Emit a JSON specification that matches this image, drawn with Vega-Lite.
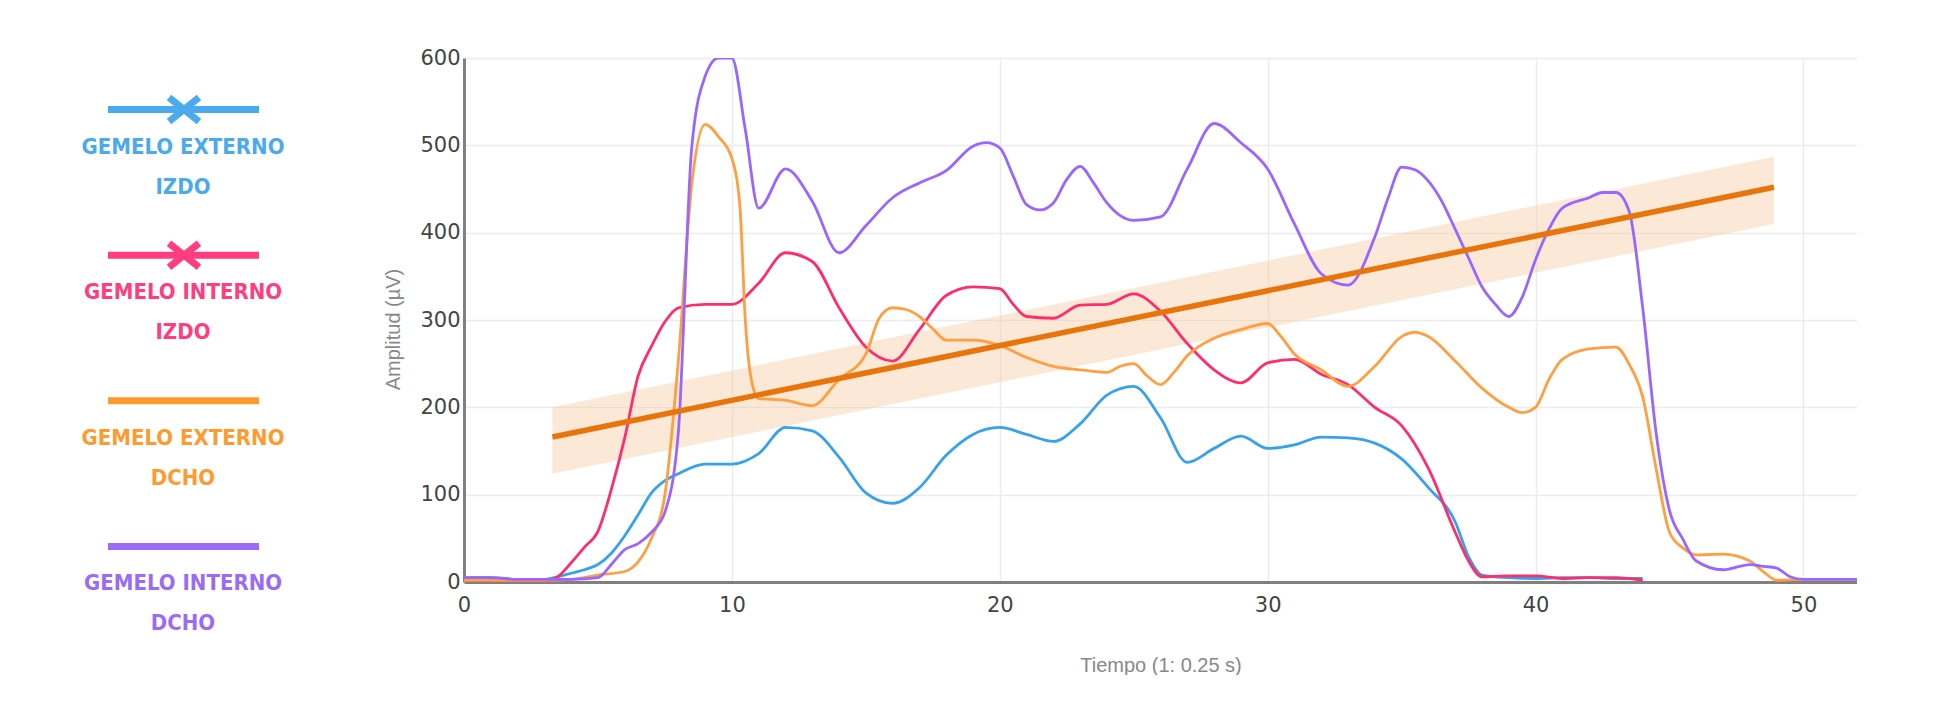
{
  "$schema": "https://vega.github.io/schema/vega-lite/v6.json",
  "background": "white",
  "padding": {"left": 0, "top": 47, "right": 0, "bottom": 0},
  "spacing": 23,
  "config": {"view": {"stroke": null}},
  "datasets": {
    "legend": [
      {"s": "Gemelo externo izdo", "l1": "GEMELO EXTERNO", "l2": "IZDO", "cross": true},
      {"s": "Gemelo interno izdo", "l1": "GEMELO INTERNO", "l2": "IZDO", "cross": true},
      {"s": "Gemelo externo dcho", "l1": "GEMELO EXTERNO", "l2": "DCHO", "cross": false},
      {"s": "Gemelo interno dcho", "l1": "GEMELO INTERNO", "l2": "DCHO", "cross": false}
    ],
    "trend": [
      {"t": 3.3, "fit": 166, "lo": 124, "hi": 200},
      {"t": 48.9, "fit": 452, "lo": 410, "hi": 487}
    ],
    "series": [
      {"s": "Gemelo externo izdo", "t": 0, "v": 5},
      {"s": "Gemelo externo izdo", "t": 1, "v": 5},
      {"s": "Gemelo externo izdo", "t": 2, "v": 3},
      {"s": "Gemelo externo izdo", "t": 3, "v": 3},
      {"s": "Gemelo externo izdo", "t": 3.5, "v": 6},
      {"s": "Gemelo externo izdo", "t": 4, "v": 10},
      {"s": "Gemelo externo izdo", "t": 4.5, "v": 14},
      {"s": "Gemelo externo izdo", "t": 5, "v": 20},
      {"s": "Gemelo externo izdo", "t": 5.5, "v": 33},
      {"s": "Gemelo externo izdo", "t": 6, "v": 53},
      {"s": "Gemelo externo izdo", "t": 6.5, "v": 77},
      {"s": "Gemelo externo izdo", "t": 7, "v": 102},
      {"s": "Gemelo externo izdo", "t": 7.5, "v": 116},
      {"s": "Gemelo externo izdo", "t": 8, "v": 124},
      {"s": "Gemelo externo izdo", "t": 9, "v": 135},
      {"s": "Gemelo externo izdo", "t": 10, "v": 135},
      {"s": "Gemelo externo izdo", "t": 11, "v": 147},
      {"s": "Gemelo externo izdo", "t": 12, "v": 177},
      {"s": "Gemelo externo izdo", "t": 13, "v": 173},
      {"s": "Gemelo externo izdo", "t": 14, "v": 143},
      {"s": "Gemelo externo izdo", "t": 15, "v": 102},
      {"s": "Gemelo externo izdo", "t": 16, "v": 90},
      {"s": "Gemelo externo izdo", "t": 17, "v": 108},
      {"s": "Gemelo externo izdo", "t": 18, "v": 145},
      {"s": "Gemelo externo izdo", "t": 19, "v": 169},
      {"s": "Gemelo externo izdo", "t": 20, "v": 177},
      {"s": "Gemelo externo izdo", "t": 21, "v": 169},
      {"s": "Gemelo externo izdo", "t": 22, "v": 161},
      {"s": "Gemelo externo izdo", "t": 23, "v": 181},
      {"s": "Gemelo externo izdo", "t": 24, "v": 214},
      {"s": "Gemelo externo izdo", "t": 25, "v": 224},
      {"s": "Gemelo externo izdo", "t": 26, "v": 188},
      {"s": "Gemelo externo izdo", "t": 27, "v": 137},
      {"s": "Gemelo externo izdo", "t": 28, "v": 153},
      {"s": "Gemelo externo izdo", "t": 29, "v": 167},
      {"s": "Gemelo externo izdo", "t": 30, "v": 153},
      {"s": "Gemelo externo izdo", "t": 31, "v": 157},
      {"s": "Gemelo externo izdo", "t": 32, "v": 166},
      {"s": "Gemelo externo izdo", "t": 33, "v": 165},
      {"s": "Gemelo externo izdo", "t": 34, "v": 159},
      {"s": "Gemelo externo izdo", "t": 35, "v": 141},
      {"s": "Gemelo externo izdo", "t": 36, "v": 108},
      {"s": "Gemelo externo izdo", "t": 37, "v": 69},
      {"s": "Gemelo externo izdo", "t": 37.5, "v": 29},
      {"s": "Gemelo externo izdo", "t": 38, "v": 8},
      {"s": "Gemelo externo izdo", "t": 39, "v": 5},
      {"s": "Gemelo externo izdo", "t": 40, "v": 4},
      {"s": "Gemelo externo izdo", "t": 41, "v": 5},
      {"s": "Gemelo externo izdo", "t": 42, "v": 5},
      {"s": "Gemelo externo izdo", "t": 43, "v": 4},
      {"s": "Gemelo externo izdo", "t": 44, "v": 4},

      {"s": "Gemelo interno izdo", "t": 0, "v": 2},
      {"s": "Gemelo interno izdo", "t": 1, "v": 2},
      {"s": "Gemelo interno izdo", "t": 2, "v": 1},
      {"s": "Gemelo interno izdo", "t": 3, "v": 1},
      {"s": "Gemelo interno izdo", "t": 3.5, "v": 6},
      {"s": "Gemelo interno izdo", "t": 4, "v": 22},
      {"s": "Gemelo interno izdo", "t": 4.5, "v": 40},
      {"s": "Gemelo interno izdo", "t": 5, "v": 58},
      {"s": "Gemelo interno izdo", "t": 5.5, "v": 106},
      {"s": "Gemelo interno izdo", "t": 6, "v": 165},
      {"s": "Gemelo interno izdo", "t": 6.5, "v": 236},
      {"s": "Gemelo interno izdo", "t": 7, "v": 270},
      {"s": "Gemelo interno izdo", "t": 7.5, "v": 298},
      {"s": "Gemelo interno izdo", "t": 8, "v": 314},
      {"s": "Gemelo interno izdo", "t": 9, "v": 318},
      {"s": "Gemelo interno izdo", "t": 10, "v": 318},
      {"s": "Gemelo interno izdo", "t": 11, "v": 342},
      {"s": "Gemelo interno izdo", "t": 12, "v": 377},
      {"s": "Gemelo interno izdo", "t": 13, "v": 367},
      {"s": "Gemelo interno izdo", "t": 14, "v": 314},
      {"s": "Gemelo interno izdo", "t": 15, "v": 269},
      {"s": "Gemelo interno izdo", "t": 16, "v": 253},
      {"s": "Gemelo interno izdo", "t": 17, "v": 289},
      {"s": "Gemelo interno izdo", "t": 18, "v": 328},
      {"s": "Gemelo interno izdo", "t": 19, "v": 338},
      {"s": "Gemelo interno izdo", "t": 20, "v": 336},
      {"s": "Gemelo interno izdo", "t": 20.5, "v": 318},
      {"s": "Gemelo interno izdo", "t": 21, "v": 304},
      {"s": "Gemelo interno izdo", "t": 22, "v": 302},
      {"s": "Gemelo interno izdo", "t": 23, "v": 317},
      {"s": "Gemelo interno izdo", "t": 24, "v": 318},
      {"s": "Gemelo interno izdo", "t": 25, "v": 330},
      {"s": "Gemelo interno izdo", "t": 26, "v": 310},
      {"s": "Gemelo interno izdo", "t": 27, "v": 273},
      {"s": "Gemelo interno izdo", "t": 28, "v": 243},
      {"s": "Gemelo interno izdo", "t": 29, "v": 228},
      {"s": "Gemelo interno izdo", "t": 30, "v": 251},
      {"s": "Gemelo interno izdo", "t": 31, "v": 255},
      {"s": "Gemelo interno izdo", "t": 32, "v": 238},
      {"s": "Gemelo interno izdo", "t": 33, "v": 226},
      {"s": "Gemelo interno izdo", "t": 34, "v": 200},
      {"s": "Gemelo interno izdo", "t": 35, "v": 179},
      {"s": "Gemelo interno izdo", "t": 36, "v": 130},
      {"s": "Gemelo interno izdo", "t": 37, "v": 57},
      {"s": "Gemelo interno izdo", "t": 37.5, "v": 24},
      {"s": "Gemelo interno izdo", "t": 38, "v": 6},
      {"s": "Gemelo interno izdo", "t": 39, "v": 7},
      {"s": "Gemelo interno izdo", "t": 40, "v": 7},
      {"s": "Gemelo interno izdo", "t": 41, "v": 4},
      {"s": "Gemelo interno izdo", "t": 42, "v": 5},
      {"s": "Gemelo interno izdo", "t": 43, "v": 5},
      {"s": "Gemelo interno izdo", "t": 44, "v": 2},

      {"s": "Gemelo externo dcho", "t": 0, "v": 2},
      {"s": "Gemelo externo dcho", "t": 1, "v": 2},
      {"s": "Gemelo externo dcho", "t": 2, "v": 2},
      {"s": "Gemelo externo dcho", "t": 3, "v": 2},
      {"s": "Gemelo externo dcho", "t": 4, "v": 3},
      {"s": "Gemelo externo dcho", "t": 5, "v": 8},
      {"s": "Gemelo externo dcho", "t": 6, "v": 12},
      {"s": "Gemelo externo dcho", "t": 6.5, "v": 23},
      {"s": "Gemelo externo dcho", "t": 7, "v": 50},
      {"s": "Gemelo externo dcho", "t": 7.5, "v": 100},
      {"s": "Gemelo externo dcho", "t": 8, "v": 253},
      {"s": "Gemelo externo dcho", "t": 8.5, "v": 455},
      {"s": "Gemelo externo dcho", "t": 9, "v": 524},
      {"s": "Gemelo externo dcho", "t": 9.5, "v": 510},
      {"s": "Gemelo externo dcho", "t": 10, "v": 485},
      {"s": "Gemelo externo dcho", "t": 10.3, "v": 430},
      {"s": "Gemelo externo dcho", "t": 10.5, "v": 300},
      {"s": "Gemelo externo dcho", "t": 10.75, "v": 228},
      {"s": "Gemelo externo dcho", "t": 11, "v": 210},
      {"s": "Gemelo externo dcho", "t": 12, "v": 208},
      {"s": "Gemelo externo dcho", "t": 13, "v": 202},
      {"s": "Gemelo externo dcho", "t": 14, "v": 232},
      {"s": "Gemelo externo dcho", "t": 15, "v": 261},
      {"s": "Gemelo externo dcho", "t": 15.5, "v": 302},
      {"s": "Gemelo externo dcho", "t": 16, "v": 314},
      {"s": "Gemelo externo dcho", "t": 16.5, "v": 312},
      {"s": "Gemelo externo dcho", "t": 17, "v": 304},
      {"s": "Gemelo externo dcho", "t": 17.5, "v": 290},
      {"s": "Gemelo externo dcho", "t": 18, "v": 277},
      {"s": "Gemelo externo dcho", "t": 19, "v": 277},
      {"s": "Gemelo externo dcho", "t": 20, "v": 271},
      {"s": "Gemelo externo dcho", "t": 21, "v": 257},
      {"s": "Gemelo externo dcho", "t": 22, "v": 247},
      {"s": "Gemelo externo dcho", "t": 23, "v": 243},
      {"s": "Gemelo externo dcho", "t": 24, "v": 240},
      {"s": "Gemelo externo dcho", "t": 24.5, "v": 247},
      {"s": "Gemelo externo dcho", "t": 25, "v": 250},
      {"s": "Gemelo externo dcho", "t": 25.5, "v": 236},
      {"s": "Gemelo externo dcho", "t": 26, "v": 226},
      {"s": "Gemelo externo dcho", "t": 26.5, "v": 240},
      {"s": "Gemelo externo dcho", "t": 27, "v": 259},
      {"s": "Gemelo externo dcho", "t": 28, "v": 279},
      {"s": "Gemelo externo dcho", "t": 29, "v": 289},
      {"s": "Gemelo externo dcho", "t": 30, "v": 296},
      {"s": "Gemelo externo dcho", "t": 30.5, "v": 281},
      {"s": "Gemelo externo dcho", "t": 31, "v": 261},
      {"s": "Gemelo externo dcho", "t": 32, "v": 243},
      {"s": "Gemelo externo dcho", "t": 33, "v": 224},
      {"s": "Gemelo externo dcho", "t": 34, "v": 247},
      {"s": "Gemelo externo dcho", "t": 35, "v": 281},
      {"s": "Gemelo externo dcho", "t": 35.5, "v": 286},
      {"s": "Gemelo externo dcho", "t": 36, "v": 281},
      {"s": "Gemelo externo dcho", "t": 37, "v": 253},
      {"s": "Gemelo externo dcho", "t": 38, "v": 222},
      {"s": "Gemelo externo dcho", "t": 39, "v": 200},
      {"s": "Gemelo externo dcho", "t": 39.5, "v": 194},
      {"s": "Gemelo externo dcho", "t": 40, "v": 200},
      {"s": "Gemelo externo dcho", "t": 40.5, "v": 232},
      {"s": "Gemelo externo dcho", "t": 41, "v": 255},
      {"s": "Gemelo externo dcho", "t": 42, "v": 267},
      {"s": "Gemelo externo dcho", "t": 43, "v": 269},
      {"s": "Gemelo externo dcho", "t": 43.5, "v": 249},
      {"s": "Gemelo externo dcho", "t": 44, "v": 212},
      {"s": "Gemelo externo dcho", "t": 44.5, "v": 130},
      {"s": "Gemelo externo dcho", "t": 45, "v": 57},
      {"s": "Gemelo externo dcho", "t": 45.5, "v": 39},
      {"s": "Gemelo externo dcho", "t": 46, "v": 31},
      {"s": "Gemelo externo dcho", "t": 47, "v": 32},
      {"s": "Gemelo externo dcho", "t": 48, "v": 24},
      {"s": "Gemelo externo dcho", "t": 48.5, "v": 12},
      {"s": "Gemelo externo dcho", "t": 49, "v": 2},
      {"s": "Gemelo externo dcho", "t": 50, "v": 3},
      {"s": "Gemelo externo dcho", "t": 51, "v": 3},
      {"s": "Gemelo externo dcho", "t": 52, "v": 3},

      {"s": "Gemelo interno dcho", "t": 0, "v": 5},
      {"s": "Gemelo interno dcho", "t": 1, "v": 5},
      {"s": "Gemelo interno dcho", "t": 2, "v": 3},
      {"s": "Gemelo interno dcho", "t": 3, "v": 3},
      {"s": "Gemelo interno dcho", "t": 4, "v": 3},
      {"s": "Gemelo interno dcho", "t": 5, "v": 5},
      {"s": "Gemelo interno dcho", "t": 5.5, "v": 20},
      {"s": "Gemelo interno dcho", "t": 6, "v": 37},
      {"s": "Gemelo interno dcho", "t": 6.5, "v": 44},
      {"s": "Gemelo interno dcho", "t": 7, "v": 57},
      {"s": "Gemelo interno dcho", "t": 7.5, "v": 80},
      {"s": "Gemelo interno dcho", "t": 8, "v": 171},
      {"s": "Gemelo interno dcho", "t": 8.5, "v": 497},
      {"s": "Gemelo interno dcho", "t": 9, "v": 579},
      {"s": "Gemelo interno dcho", "t": 9.5, "v": 600},
      {"s": "Gemelo interno dcho", "t": 10, "v": 600},
      {"s": "Gemelo interno dcho", "t": 10.5, "v": 518},
      {"s": "Gemelo interno dcho", "t": 11, "v": 428},
      {"s": "Gemelo interno dcho", "t": 12, "v": 473},
      {"s": "Gemelo interno dcho", "t": 13, "v": 436},
      {"s": "Gemelo interno dcho", "t": 14, "v": 377},
      {"s": "Gemelo interno dcho", "t": 15, "v": 408},
      {"s": "Gemelo interno dcho", "t": 16, "v": 440},
      {"s": "Gemelo interno dcho", "t": 17, "v": 457},
      {"s": "Gemelo interno dcho", "t": 18, "v": 471},
      {"s": "Gemelo interno dcho", "t": 19, "v": 499},
      {"s": "Gemelo interno dcho", "t": 19.5, "v": 503},
      {"s": "Gemelo interno dcho", "t": 20, "v": 497},
      {"s": "Gemelo interno dcho", "t": 20.5, "v": 465},
      {"s": "Gemelo interno dcho", "t": 21, "v": 432},
      {"s": "Gemelo interno dcho", "t": 21.5, "v": 426},
      {"s": "Gemelo interno dcho", "t": 22, "v": 434},
      {"s": "Gemelo interno dcho", "t": 22.5, "v": 461},
      {"s": "Gemelo interno dcho", "t": 23, "v": 476},
      {"s": "Gemelo interno dcho", "t": 23.5, "v": 457},
      {"s": "Gemelo interno dcho", "t": 24, "v": 434},
      {"s": "Gemelo interno dcho", "t": 25, "v": 414},
      {"s": "Gemelo interno dcho", "t": 26, "v": 418},
      {"s": "Gemelo interno dcho", "t": 27, "v": 473},
      {"s": "Gemelo interno dcho", "t": 28, "v": 525},
      {"s": "Gemelo interno dcho", "t": 29, "v": 503},
      {"s": "Gemelo interno dcho", "t": 30, "v": 473},
      {"s": "Gemelo interno dcho", "t": 31, "v": 410},
      {"s": "Gemelo interno dcho", "t": 32, "v": 353},
      {"s": "Gemelo interno dcho", "t": 33, "v": 340},
      {"s": "Gemelo interno dcho", "t": 34, "v": 395},
      {"s": "Gemelo interno dcho", "t": 34.5, "v": 440},
      {"s": "Gemelo interno dcho", "t": 35, "v": 475},
      {"s": "Gemelo interno dcho", "t": 35.5, "v": 472},
      {"s": "Gemelo interno dcho", "t": 36, "v": 459},
      {"s": "Gemelo interno dcho", "t": 36.5, "v": 436},
      {"s": "Gemelo interno dcho", "t": 37, "v": 404},
      {"s": "Gemelo interno dcho", "t": 37.5, "v": 371},
      {"s": "Gemelo interno dcho", "t": 38, "v": 338},
      {"s": "Gemelo interno dcho", "t": 38.5, "v": 318},
      {"s": "Gemelo interno dcho", "t": 39, "v": 304},
      {"s": "Gemelo interno dcho", "t": 39.5, "v": 326},
      {"s": "Gemelo interno dcho", "t": 40, "v": 369},
      {"s": "Gemelo interno dcho", "t": 40.5, "v": 404},
      {"s": "Gemelo interno dcho", "t": 41, "v": 428},
      {"s": "Gemelo interno dcho", "t": 42, "v": 440},
      {"s": "Gemelo interno dcho", "t": 42.5, "v": 446},
      {"s": "Gemelo interno dcho", "t": 43, "v": 446},
      {"s": "Gemelo interno dcho", "t": 43.5, "v": 424},
      {"s": "Gemelo interno dcho", "t": 44, "v": 314},
      {"s": "Gemelo interno dcho", "t": 44.5, "v": 171},
      {"s": "Gemelo interno dcho", "t": 45, "v": 82},
      {"s": "Gemelo interno dcho", "t": 45.5, "v": 49},
      {"s": "Gemelo interno dcho", "t": 46, "v": 24},
      {"s": "Gemelo interno dcho", "t": 47, "v": 14},
      {"s": "Gemelo interno dcho", "t": 48, "v": 20},
      {"s": "Gemelo interno dcho", "t": 48.5, "v": 18},
      {"s": "Gemelo interno dcho", "t": 49, "v": 16},
      {"s": "Gemelo interno dcho", "t": 49.5, "v": 6},
      {"s": "Gemelo interno dcho", "t": 50, "v": 3},
      {"s": "Gemelo interno dcho", "t": 51, "v": 3},
      {"s": "Gemelo interno dcho", "t": 52, "v": 3}
    ]
  },
  "hconcat": [
    {
      "width": 360,
      "height": 540,
      "data": {"name": "legend"},
      "encoding": {
        "y": {"field": "s", "type": "nominal", "axis": null,
              "scale": {"type": "point", "padding": 0.354,
                        "domain": ["Gemelo externo izdo", "Gemelo interno izdo", "Gemelo externo dcho", "Gemelo interno dcho"]}},
        "color": {"field": "s", "type": "nominal", "legend": null,
                  "scale": {"domain": ["Gemelo externo izdo", "Gemelo interno izdo", "Gemelo externo dcho", "Gemelo interno dcho"],
                            "range": ["#4aaaed", "#ff3d7f", "#ff9a2e", "#9a6bf7"]}}
      },
      "layer": [
        {
          "mark": {"type": "rule", "strokeWidth": 7},
          "encoding": {
            "x": {"datum": 108, "type": "quantitative", "scale": {"domain": [0, 360], "nice": false, "zero": false}, "axis": null},
            "x2": {"datum": 259}
          }
        },
        {
          "transform": [{"filter": "datum.cross"}],
          "mark": {"type": "point", "shape": "M-1,-0.8L1,0.8M-1,0.8L1,-0.8", "filled": false, "strokeWidth": 7, "size": 900, "opacity": 1, "strokeCap": "butt"},
          "encoding": {"x": {"datum": 184, "type": "quantitative"}}
        },
        {
          "mark": {"type": "text", "font": "DejaVu Sans Condensed, DejaVu Sans", "fontWeight": "bold", "fontSize": 22, "baseline": "middle", "align": "center", "dy": 37},
          "encoding": {"x": {"datum": 183, "type": "quantitative"}, "text": {"field": "l1"}}
        },
        {
          "mark": {"type": "text", "font": "DejaVu Sans Condensed, DejaVu Sans", "fontWeight": "bold", "fontSize": 22, "baseline": "middle", "align": "center", "dy": 77},
          "encoding": {"x": {"datum": 183, "type": "quantitative"}, "text": {"field": "l2"}}
        }
      ]
    },
    {
      "width": 1393,
      "height": 524,
      "encoding": {
        "x": {"field": "t", "type": "quantitative",
              "scale": {"domain": [0, 52], "nice": false, "zero": false},
              "axis": {"title": "Tiempo (1: 0.25 s)", "values": [0, 10, 20, 30, 40, 50],
                       "grid": true, "gridColor": "#ececec", "gridWidth": 1.5,
                       "domainColor": "#808080", "domainWidth": 3, "ticks": false,
                       "labelFont": "DejaVu Sans", "labelFontSize": 21, "labelColor": "#444", "labelPadding": 12,
                       "labelFlush": false,
                       "titleFont": "Liberation Sans", "titleFontSize": 20, "titleFontWeight": "normal", "titleColor": "#888", "titlePadding": 40}}
      },
      "layer": [
        {
          "data": {"name": "trend"},
          "mark": {"type": "area", "color": "#f7c9a0", "opacity": 0.42},
          "encoding": {
            "y": {"field": "lo", "type": "quantitative",
                  "scale": {"domain": [0, 600], "nice": false},
                  "axis": {"title": "Amplitud (µV)", "values": [0, 100, 200, 300, 400, 500, 600],
                           "grid": true, "gridColor": "#ececec", "gridWidth": 1.5,
                           "domainColor": "#808080", "domainWidth": 3, "ticks": false,
                           "labelFont": "DejaVu Sans", "labelFontSize": 21, "labelColor": "#444", "labelPadding": 4,
                           "labelFlush": false, "titleY": 271,
                           "titleFont": "Liberation Sans", "titleFontSize": 20, "titleFontWeight": "normal", "titleColor": "#888", "titlePadding": 16}},
            "y2": {"field": "hi"}
          }
        },
        {
          "data": {"name": "series"},
          "mark": {"type": "line", "interpolate": "monotone", "strokeWidth": 2.8, "clip": true},
          "encoding": {
            "y": {"field": "v", "type": "quantitative"},
            "color": {"field": "s", "type": "nominal", "legend": null,
                      "scale": {"domain": ["Gemelo externo izdo", "Gemelo interno izdo", "Gemelo externo dcho", "Gemelo interno dcho"],
                                "range": ["#36a2eb", "#ff2d6e", "#ff9f40", "#9966ff"]}}
          }
        },
        {
          "data": {"name": "trend"},
          "mark": {"type": "line", "color": "#e8740c", "strokeWidth": 5.5},
          "encoding": {"y": {"field": "fit", "type": "quantitative"}}
        }
      ]
    }
  ],
  "resolve": {"scale": {"color": "independent"}}
}
